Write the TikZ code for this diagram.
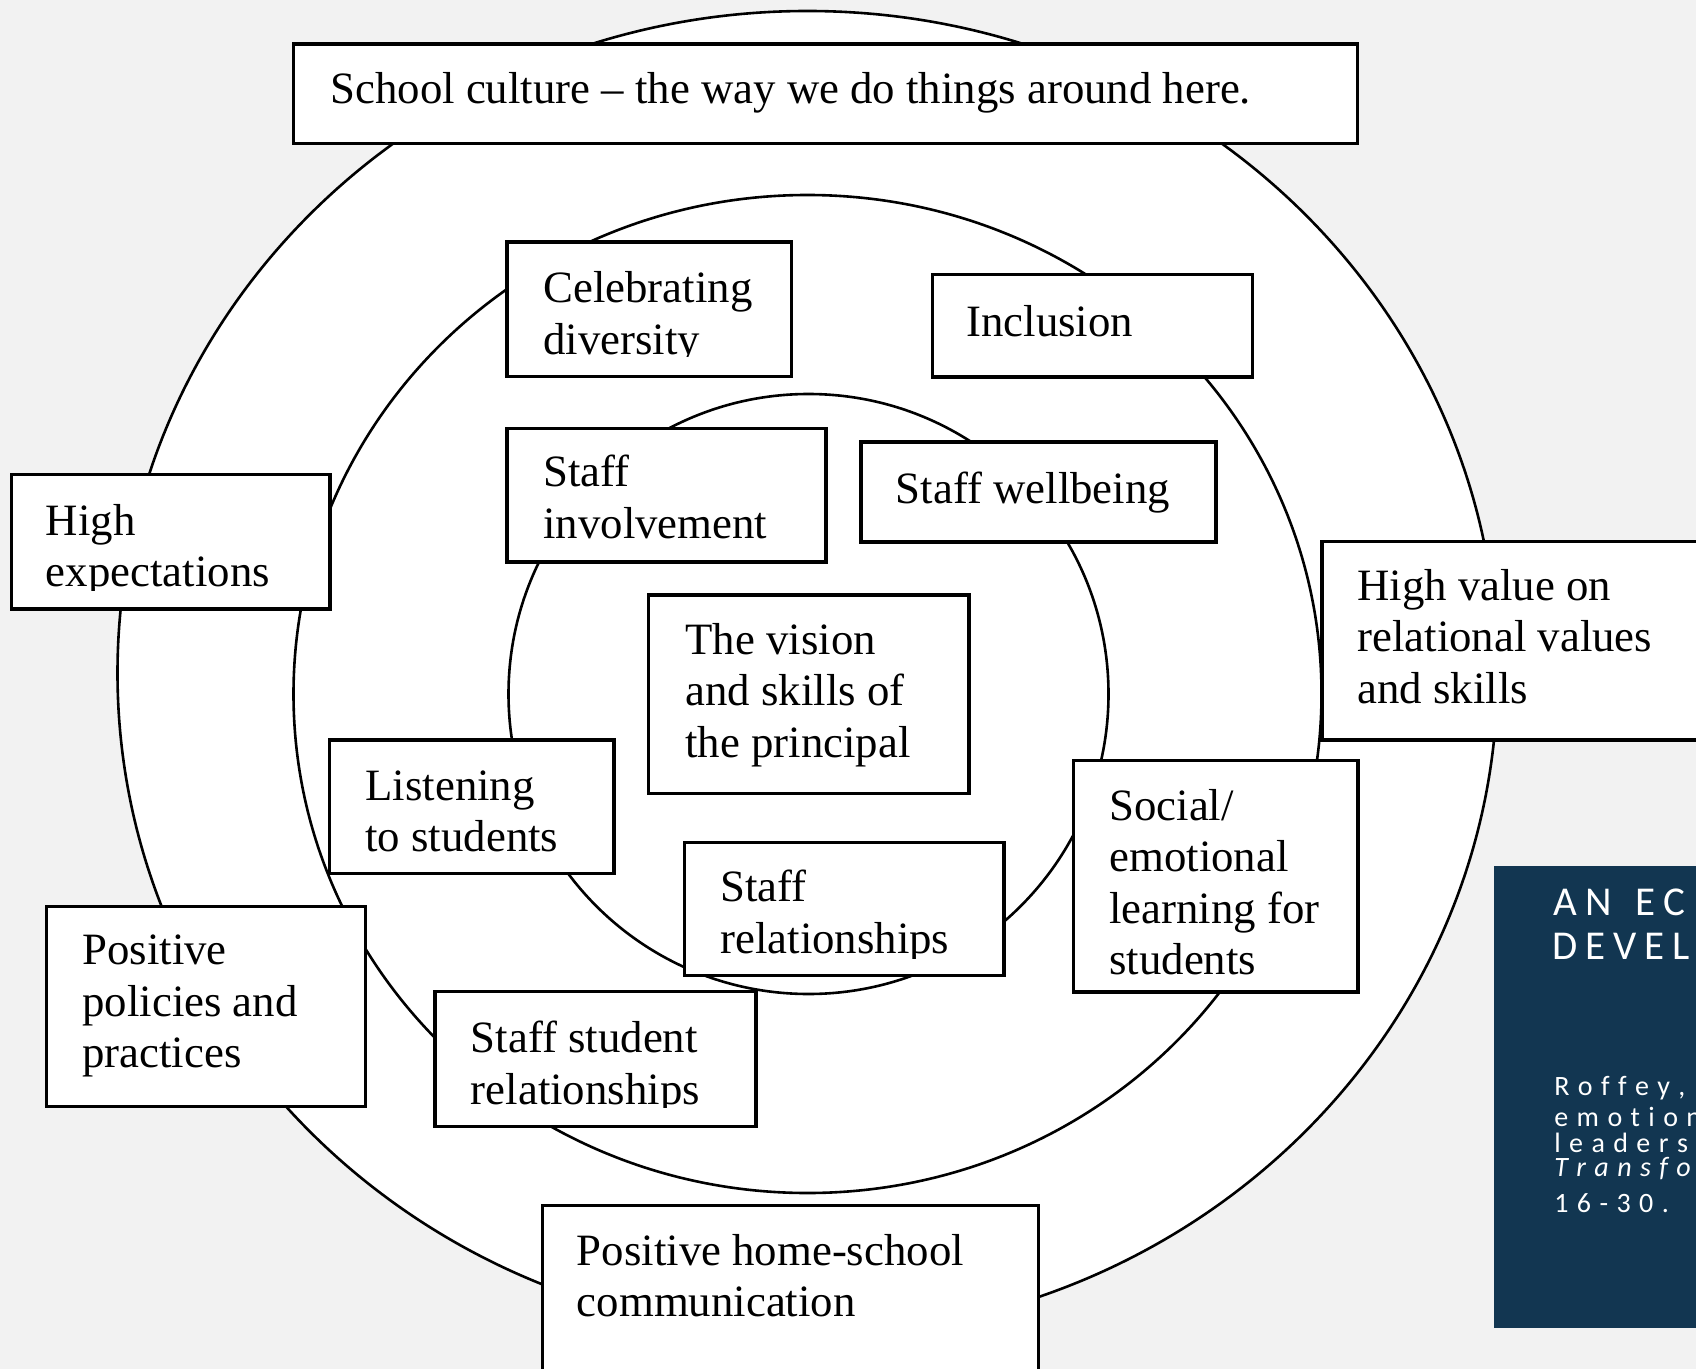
\documentclass[tikz,border=0pt]{standalone}
\usepackage{fontspec}
\setmainfont{Liberation Serif}
\newfontfamily\slidefont{Carlito}
\usetikzlibrary{fit}
\definecolor{bgcol}{HTML}{F2F2F2}
\definecolor{slideblue}{RGB}{18,54,81}
\newcommand{\boxlines}[1]{\begin{tabular}[t]{@{}l@{}}#1\end{tabular}}
% letter-spaced text: a kern after every character, | gives a word space
\newdimen\lsamt
\newdimen\lsspace
\def\spacedtxt#1#2{\lsamt=#1\relax\lsspace=2\lsamt\relax\spacedi#2\relax}
\def\spacedi#1{\ifx#1\relax\else\ifx#1|\hskip\lsspace\relax\else#1\kern\lsamt\fi\expandafter\spacedi\fi}
\tikzset{
  bx/.style={draw=black, fill=white, line width=1.7pt, inner sep=0pt, rectangle},
  circ/.style={draw=black, line width=1.3pt},
  tx/.style={inner sep=0pt, anchor=base west, font=\fontsize{22.4pt}{25.75pt}\selectfont},
  ttl/.style={inner sep=0pt, anchor=base west, text=white, font=\slidefont\fontsize{20.5pt}{24pt}\selectfont},
  cite/.style={inner sep=0pt, anchor=base west, text=white, font=\slidefont\fontsize{14pt}{16pt}\selectfont},
}
\begin{document}
\begin{tikzpicture}[x=0.5pt, y=-0.5pt]
\useasboundingbox (0,0) rectangle (1696,1369);
\clip (0,0) rectangle (1696,1369);
\fill[bgcol] (0,0) rectangle (1696,1369);

% rings
\filldraw[circ, fill=white] (807.5,673) ellipse [x radius=345pt, y radius=331pt];
\draw[circ] (807.5,694) ellipse [x radius=257pt, y radius=249.5pt];
\draw[circ] (808.5,694) circle [radius=150pt];

% boxes
\node[bx, fit={(293.5,44) (1357.5,143.5)}] (culture) {};
\node[tx] (culture-t) at (330,104) {\boxlines{School culture \textendash{} the way we do things around here.}};

\node[bx, fit={(507,242) (791.5,376.5)}] (celebr) {};
\begin{scope}
\clip (507,242) rectangle (791.5,357);
\node[tx] (celebr-t) at (543,303) {\boxlines{Celebrating\\diversity}};
\end{scope}

\node[bx, fit={(932.5,274.5) (1252.5,377)}] (incl) {};
\node[tx] (incl-t) at (966,336) {\boxlines{Inclusion}};

\node[bx, fit={(507,428.5) (826,562)}] (involv) {};
\node[tx] (involv-t) at (543,486.5) {\boxlines{Staff\\involvement}};

\node[bx, fit={(861,442) (1216,542)}] (wellb) {};
\node[tx] (wellb-t) at (895.5,503) {\boxlines{Staff wellbeing}};

\node[bx, fit={(11.5,474.5) (330,609)}] (highexp) {};
\begin{scope}
\clip (11.5,474.5) rectangle (330,590);
\node[tx] (highexp-t) at (45.5,535) {\boxlines{High\\expectations}};
\end{scope}

\node[bx, fit={(648.5,595) (969,793.5)}] (vision) {};
\node[tx] (vision-t) at (685,654) {\boxlines{The vision\\and skills of\\the principal}};

\node[bx, fit={(1322,541.5) (1720,740)}] (highval) {};
\node[tx] (highval-t) at (1357,600) {\boxlines{High value on\\relational values\\and skills}};

\node[bx, fit={(329.5,740) (614,873.5)}] (listen) {};
\node[tx] (listen-t) at (365,800) {\boxlines{Listening\\to students}};

\node[bx, fit={(684.5,842.5) (1004,975.5)}] (staffrel) {};
\begin{scope}
\clip (684.5,842.5) rectangle (1004,958);
\node[tx] (staffrel-t) at (720,901.5) {\boxlines{Staff\\relationships}};
\end{scope}

\node[bx, fit={(1073.5,760.5) (1358,992)}] (social) {};
\node[tx] (social-t) at (1109,820) {\boxlines{Social/\\emotional\\learning for\\students}};

\node[bx, fit={(46.5,906.5) (365.5,1106.5)}] (policies) {};
\node[tx] (policies-t) at (82,964.5) {\boxlines{Positive\\policies and\\practices}};

\node[bx, fit={(435,991.5) (756,1126.5)}] (stustaff) {};
\begin{scope}
\clip (435,991.5) rectangle (756,1107);
\node[tx] (stustaff-t) at (470.5,1052.5) {\boxlines{Staff student\\relationships}};
\end{scope}

\node[bx, fit={(542.7,1205.5) (1038.5,1390)}] (home) {};
\node[tx] (home-t) at (576.5,1265) {\boxlines{Positive home-school\\communication}};

% slide panel
\node[fill=slideblue, inner sep=0pt, fit={(1494,866) (1720,1327.5)}] (panel) {};
\node[ttl] (title1) at (1553,915) {\spacedtxt{4pt}{AN|EC}};
\node[ttl] (title2) at (1552,959) {\spacedtxt{4pt}{DEVEL}};
\node[cite] (cite1) at (1554,1095) {\spacedtxt{4.2pt}{Roffey,}};
\node[cite] (cite2) at (1554,1126) {\spacedtxt{4.2pt}{emotion}};
\node[cite] (cite3) at (1554,1152) {\spacedtxt{4.2pt}{leaders}};
\node[cite] (cite4) at (1554,1176) {\itshape\spacedtxt{4.2pt}{Transfo}};
\node[cite] (cite5) at (1554,1212) {\spacedtxt{4.2pt}{16-30.}};
\end{tikzpicture}
\end{document}
